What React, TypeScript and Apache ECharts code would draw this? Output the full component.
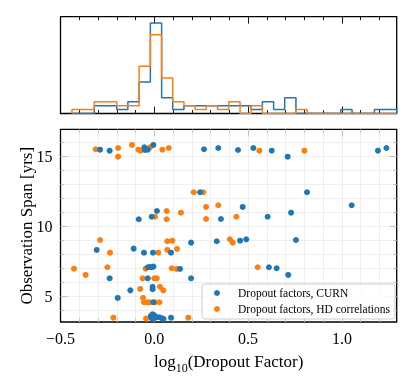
import React, { useEffect, useRef } from 'react';
import * as echarts from 'echarts';

const FONT = '"Liberation Serif", "DejaVu Serif", serif';
const BLUE = '#1f77b4';
const ORANGE = '#ff7f0e';
const CURN_NAME = 'Dropout factors, CURN';
const HD_NAME = 'Dropout factors, HD correlations';

// Histogram bin edges (log10 dropout factor) and counts per bin
const binEdges = [
  -0.439, -0.379, -0.32, -0.26, -0.2, -0.141, -0.081, -0.021, 0.039, 0.098,
  0.158, 0.218, 0.277, 0.337, 0.397, 0.457, 0.516, 0.576, 0.636, 0.695,
  0.755, 0.815, 0.874, 0.934, 0.994, 1.054, 1.113, 1.173, 1.233, 1.292,
];
const curnCounts = [0, 0, 2, 2, 1, 3, 8, 23, 4, 1, 2, 2, 2, 2, 2, 2, 1, 3, 1, 4, 0, 0, 0, 0, 1, 0, 0, 1, 1];
const hdCounts = [1, 1, 3, 3, 2, 2, 12, 20, 9, 3, 2, 1, 2, 1, 3, 0, 2, 0, 0, 0, 1, 0, 0, 0, 0, 0, 0, 0, 0];

// Scatter points: [log10 dropout factor, observation span yrs]
const curnPoints: [number, number][] = [
  [-0.289, 15.5], [-0.238, 15.43], [-0.053, 15.67], [-0.05, 15.48], [-0.035, 15.5], [-0.005, 15.84],
  [0.265, 15.53], [0.341, 15.62], [0.446, 15.48], [0.528, 15.62], [0.626, 15.43], [0.711, 15.0],
  [1.192, 15.43], [1.237, 15.62],
  [0.814, 12.46], [0.244, 12.46], [0.471, 11.41], [0.604, 10.71], [0.729, 11.0], [1.052, 11.53],
  [0.014, 11.12], [-0.014, 10.71], [-0.083, 10.53], [0.355, 10.55],
  [-0.307, 8.34], [-0.11, 8.43], [-0.055, 8.14], [-0.007, 8.14], [0.089, 8.14], [0.196, 8.86],
  [0.333, 8.96], [0.457, 9.0], [0.49, 9.1], [0.755, 9.05],
  [0.611, 7.1], [0.652, 7.03], [0.714, 6.55], [-0.238, 6.31], [-0.035, 7.1], [-0.025, 7.12],
  [-0.015, 7.1], [-0.005, 7.15], [-0.035, 6.31], [0.137, 6.98], [0.196, 6.31],
  [-0.009, 5.71], [-0.009, 5.53], [-0.128, 5.45], [-0.195, 4.91], [-0.005, 4.6],
  [-0.019, 3.62], [-0.01, 3.74], [-0.002, 3.69], [0.004, 3.57], [0.013, 3.53], [0.027, 3.53],
  [0.04, 3.46], [0.049, 3.41], [-0.014, 3.46], [-0.005, 3.41], [0.089, 3.5],
];
const hdPoints: [number, number][] = [
  [-0.312, 15.53], [-0.193, 15.62], [-0.193, 15.0], [-0.119, 15.84], [-0.085, 15.5], [-0.073, 15.43],
  [-0.023, 15.67], [0.043, 15.5], [0.077, 15.62], [0.56, 15.43], [0.8, 15.43],
  [0.21, 12.46], [0.261, 12.46], [0.066, 11.12], [0.142, 11.0], [0.276, 11.41], [0.341, 11.53],
  [0.437, 10.71], [0.004, 10.71], [0.066, 10.53], [0.276, 10.55],
  [-0.289, 9.05], [-0.236, 8.14], [0.021, 8.14], [0.069, 8.96], [0.096, 9.0], [0.069, 8.34],
  [0.121, 8.41], [0.403, 9.1], [0.418, 8.86],
  [0.551, 7.1], [-0.428, 7.0], [-0.366, 6.55], [-0.25, 7.1], [-0.046, 7.0], [-0.062, 6.31],
  [0.0, 6.31], [0.013, 6.31], [0.093, 7.03], [0.119, 6.98],
  [0.03, 5.71], [0.048, 5.45], [-0.075, 5.55], [-0.06, 4.91], [-0.055, 4.6], [-0.037, 4.6],
  [-0.023, 4.6], [0.004, 4.6], [0.027, 4.6],
  [-0.218, 3.5], [-0.044, 3.43], [0.181, 3.5],
];

// Axis limits and ticks
const xLimits = [-0.5, 1.292];
const yLimits = [3.19, 16.95];
const histMax = 24.6;
const xMajorTicks = [-0.5, 0, 0.5, 1.0];
const xMinorTicks = [-0.4, -0.3, -0.2, -0.1, 0.1, 0.2, 0.3, 0.4, 0.6, 0.7, 0.8, 0.9, 1.1, 1.2];
const yMajorTicks = [5, 10, 15];
const yMinorTicks = [4, 6, 7, 8, 9, 11, 12, 13, 14, 16];
const xGridLines = [-0.4, -0.3, -0.2, -0.1, 0, 0.1, 0.2, 0.3, 0.4, 0.5, 0.6, 0.7, 0.8, 0.9, 1.0, 1.1, 1.2];
const yGridLines = [4, 5, 6, 7, 8, 9, 10, 11, 12, 13, 14, 15, 16];

function stepOutline(edges: number[], counts: number[]): [number, number][] {
  const pts: [number, number][] = [[edges[0], 0]];
  for (let i = 0; i < counts.length; i++) {
    pts.push([edges[i], counts[i]]);
    pts.push([edges[i + 1], counts[i]]);
  }
  pts.push([edges[edges.length - 1], 0]);
  return pts;
}

const fmtX = (v: number) => (v < 0 ? '\u2212' : '') + Math.abs(v).toFixed(1);

const labelStyle = { fontFamily: FONT, fontSize: 16, color: '#000' };

function tickAxis(
  kind: 'x' | 'y',
  gridIndex: number,
  position: string,
  values: number[],
  length: number,
  labels: boolean,
  extra: any = {}
) {
  const lim = kind === 'x' ? xLimits : yLimits;
  return {
    type: 'value',
    gridIndex,
    position,
    min: lim[0],
    max: lim[1],
    axisLine: { show: false, onZero: false },
    axisTick: {
      show: true,
      inside: true,
      length,
      lineStyle: { color: '#000', width: 0.9 },
      customValues: values,
    },
    axisLabel: labels
      ? {
          show: true,
          customValues: values,
          margin: 8,
          ...labelStyle,
          formatter: kind === 'x' ? fmtX : (v: number) => String(v),
        }
      : { show: false },
    splitLine: { show: false },
    minorTick: { show: false },
    minorSplitLine: { show: false },
    ...extra,
  };
}

export default function App() {
  const ref = useRef<HTMLDivElement>(null);
  useEffect(() => {
    const chart = echarts.init(ref.current!, undefined, { renderer: 'svg' });
    const gridCommon = {
      show: true,
      borderColor: '#000',
      borderWidth: 1.3,
      backgroundColor: 'transparent',
      containLabel: false,
      outerBoundsMode: 'none',
    };
    const option: any = {
      animation: false,
      textStyle: { fontFamily: FONT },
      grid: [
        { ...gridCommon, left: 60.5, top: 16.7, width: 336.2, height: 96.8 },
        { ...gridCommon, left: 60.5, top: 129.4, width: 336.2, height: 192.6 },
      ],
      xAxis: [
        tickAxis('x', 0, 'bottom', xMajorTicks, 7, false),
        tickAxis('x', 0, 'bottom', xMinorTicks, 3.5, false),
        tickAxis('x', 0, 'top', xMajorTicks, 7, false),
        tickAxis('x', 0, 'top', xMinorTicks, 3.5, false),
        tickAxis('x', 1, 'bottom', xMajorTicks, 7, true, {
          name: 'log{sub|10}(Dropout Factor)',
          nameLocation: 'middle',
          nameGap: 27,
          nameMoveOverlap: false,
          nameTextStyle: {
            fontFamily: FONT,
            fontSize: 17,
            color: '#000',
            rich: {
              sub: { fontFamily: FONT, fontSize: 12, color: '#000', padding: [13, 0, 0, 0] },
            },
          },
        }),
        tickAxis('x', 1, 'bottom', xMinorTicks, 3.5, false),
        tickAxis('x', 1, 'top', xMajorTicks, 7, false),
        tickAxis('x', 1, 'top', xMinorTicks, 3.5, false),
      ],
      yAxis: [
        {
          type: 'value',
          gridIndex: 0,
          min: 0,
          max: histMax,
          show: false,
          axisLine: { onZero: false },
          splitLine: { show: false },
        },
        tickAxis('y', 1, 'left', yMajorTicks, 7, true, {
          name: 'Observation Span [yrs]',
          nameLocation: 'middle',
          nameGap: 26,
          nameMoveOverlap: false,
          nameTextStyle: { fontFamily: FONT, fontSize: 17, color: '#000' },
        }),
        tickAxis('y', 1, 'left', yMinorTicks, 3.5, false),
        tickAxis('y', 1, 'right', yMajorTicks, 7, false),
        tickAxis('y', 1, 'right', yMinorTicks, 3.5, false),
      ],
      legend: {
        data: [CURN_NAME, HD_NAME],
        orient: 'vertical',
        left: 202,
        top: 284,
        padding: [2, 5, 3, 12],
        itemWidth: 6,
        itemHeight: 6,
        itemGap: 2,
        icon: 'circle',
        selectedMode: false,
        backgroundColor: 'rgba(255,255,255,0.8)',
        borderColor: '#cccccc',
        borderWidth: 1,
        borderRadius: 3,
        textStyle: {
          fontFamily: FONT,
          fontSize: 11.5,
          color: '#000',
          lineHeight: 14,
          padding: [0, 0, 0, 13],
        },
      },
      series: [
        {
          name: 'grid lines',
          type: 'line',
          xAxisIndex: 4,
          yAxisIndex: 1,
          data: [],
          silent: true,
          markLine: {
            silent: true,
            z: 1,
            symbol: ['none', 'none'],
            label: { show: false },
            lineStyle: { color: '#ebebeb', width: 0.8, type: 'solid' },
            emphasis: { disabled: true },
            data: [
              ...xGridLines.map((v) => ({ xAxis: v })),
              ...yGridLines.map((v) => ({ yAxis: v })),
            ],
          },
        },
        {
          name: 'CURN histogram',
          type: 'line',
          xAxisIndex: 0,
          yAxisIndex: 0,
          data: stepOutline(binEdges, curnCounts),
          symbol: 'none',
          showSymbol: false,
          silent: true,
          clip: true,
          z: 3,
          lineStyle: { color: BLUE, width: 1.5 },
        },
        {
          name: 'HD histogram',
          type: 'line',
          xAxisIndex: 0,
          yAxisIndex: 0,
          data: stepOutline(binEdges, hdCounts),
          symbol: 'none',
          showSymbol: false,
          silent: true,
          clip: true,
          z: 4,
          lineStyle: { color: ORANGE, width: 1.5 },
        },
        {
          name: HD_NAME,
          type: 'scatter',
          xAxisIndex: 4,
          yAxisIndex: 1,
          data: hdPoints,
          symbol: 'circle',
          symbolSize: 6,
          itemStyle: { color: ORANGE, opacity: 1 },
          z: 3,
          silent: true,
        },
        {
          name: CURN_NAME,
          type: 'scatter',
          xAxisIndex: 4,
          yAxisIndex: 1,
          data: curnPoints,
          symbol: 'circle',
          symbolSize: 6,
          itemStyle: { color: BLUE, opacity: 1 },
          z: 4,
          silent: true,
        },
      ],
    };
    chart.setOption(option);
    return () => chart.dispose();
  }, []);
  return (
    <div
      ref={ref}
      style={{ position: 'fixed', left: 0, top: 0, width: 415, height: 385 }}
    />
  );
}
